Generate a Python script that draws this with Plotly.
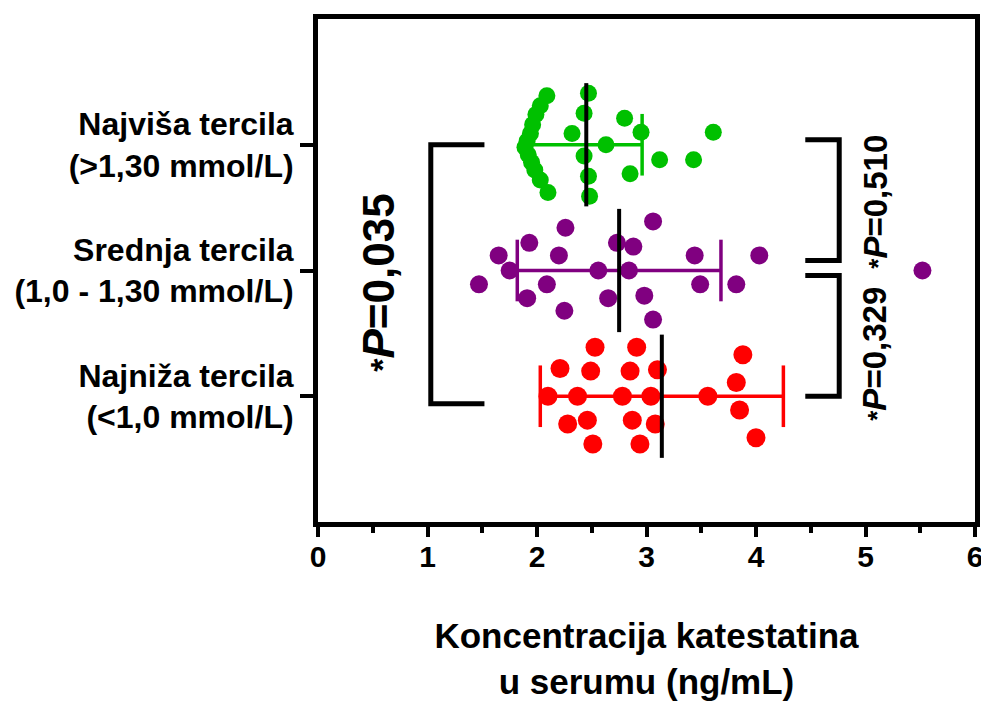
import plotly.graph_objects as go

# Serum catestatin (ng/mL) per tercile
categories = ["Najniža tercila<br>(<1,0 mmol/L)",
              "Srednja tercila<br>(1,0 - 1,30 mmol/L)",
              "Najviša tercila<br>(>1,30 mmol/L)"]
cat_pos = [1, 2, 3]

top_values = [2.09, 2.03, 1.99, 1.96, 1.94, 1.91, 1.89, 1.92, 1.95, 1.98, 2.03, 2.10,
              2.47, 2.43, 2.32, 2.63, 2.43, 2.47, 2.48,
              2.80, 2.95, 2.85, 3.12, 3.43, 3.61]
top_swarm = [0.39, 0.31, 0.24, 0.16, 0.09, 0.03, -0.02, -0.08, -0.14, -0.20, -0.28, -0.38,
             0.41, 0.25, 0.09, 0.0, -0.09, -0.25, -0.41,
             0.21, 0.10, -0.23, -0.12, -0.12, 0.10]

mid_values = [2.26, 3.06, 1.93, 2.73, 2.88, 1.65, 2.20, 3.44, 4.03, 1.75, 2.56, 2.84,
              1.47, 2.09, 3.49, 3.82, 1.91, 2.65, 2.98, 2.25, 3.06, 5.52]
mid_swarm = [0.34, 0.39, 0.22, 0.22, 0.19, 0.12, 0.12, 0.12, 0.12, 0.0, 0.0, 0.0,
             -0.11, -0.11, -0.11, -0.11, -0.22, -0.22, -0.20, -0.32, -0.39, 0.0]

low_values = [2.53, 2.91, 3.88, 2.21, 2.49, 2.85, 3.10, 3.82, 2.10, 2.37, 2.78, 3.04,
              3.56, 3.85, 2.28, 2.46, 2.87, 3.08, 2.51, 2.94, 4.00]
low_swarm = [0.39, 0.39, 0.33, 0.22, 0.20, 0.20, 0.21, 0.11, 0.0, 0.0, 0.0, 0.0,
             0.0, -0.11, -0.22, -0.19, -0.19, -0.22, -0.38, -0.38, -0.33]

# mean and SD per group (low, mid, top)
means = [3.14, 2.75, 2.45]
sds = [1.11, 0.93, 0.51]

p_labels = ["<span style='font-size:34px'>*</span><i>P</i>=0,035",
            "<span style='font-size:26px'>*</span><i>P</i>=0,510",
            "<span style='font-size:26px'>*</span><i>P</i>=0,329"]

COLORS = ["#FF0000", "#800080", "#00C000"]
FONT = "Liberation Sans, Arial, sans-serif"

fig = go.Figure()

groups = [(low_values, low_swarm), (mid_values, mid_swarm), (top_values, top_swarm)]
for i, (vals, swarm) in enumerate(groups):
    fig.add_trace(go.Scatter(
        x=vals, y=[cat_pos[i] + s for s in swarm],
        mode="markers",
        marker=dict(color=COLORS[i], size=[19, 18, 17][i], line=dict(width=0)),
        showlegend=False, hoverinfo="x"
    ))

# mean line (black) and SD bar with caps
for i in range(3):
    c = cat_pos[i]
    lo, hi = means[i] - sds[i], means[i] + sds[i]
    fig.add_trace(go.Scatter(
        x=[lo, hi, None, lo, lo, None, hi, hi],
        y=[c, c, None, c - 0.245, c + 0.245, None, c - 0.245, c + 0.245],
        mode="lines", line=dict(color=COLORS[i], width=3.5),
        showlegend=False, hoverinfo="skip"
    ))
    fig.add_trace(go.Scatter(
        x=[means[i], means[i]], y=[c - 0.49, c + 0.49],
        mode="lines", line=dict(color="black", width=4),
        showlegend=False, hoverinfo="skip"
    ))

# significance brackets
bracket = dict(type="path", line=dict(color="black", width=5), xref="x", yref="y")
fig.add_shape(path="M 1.52 3.0 L 1.03 3.0 L 1.03 0.94 L 1.52 0.94", **bracket)
fig.add_shape(path="M 4.45 3.04 L 4.76 3.04 L 4.76 2.08 L 4.45 2.08", **bracket)
fig.add_shape(path="M 4.45 1.96 L 4.76 1.96 L 4.76 1.0 L 4.45 1.0", **bracket)

fig.add_annotation(x=0.545, y=1.9, text=p_labels[0], textangle=-90, showarrow=False,
                   font=dict(family=FONT, size=44, color="black", weight="bold"))
fig.add_annotation(x=5.09, y=2.55, text=p_labels[1], textangle=-90, showarrow=False,
                   font=dict(family=FONT, size=33, color="black", weight="bold"))
fig.add_annotation(x=5.08, y=1.34, text=p_labels[2], textangle=-90, showarrow=False,
                   font=dict(family=FONT, size=33, color="black", weight="bold"))

fig.update_xaxes(
    range=[0, 6], tickvals=[0, 1, 2, 3, 4, 5, 6],
    showline=True, linewidth=5, linecolor="black", mirror=True,
    ticks="outside", ticklen=10, tickwidth=4, tickcolor="black",
    minor=dict(tickvals=[0.5, 1.5, 2.5, 3.5, 4.5, 5.5], ticks="outside",
               ticklen=6, tickwidth=4, tickcolor="black"),
    showgrid=False, zeroline=False, ticklabelstandoff=-6,
    tickfont=dict(family=FONT, size=30, color="black", weight="bold"),
    title=dict(text="Koncentracija katestatina<br>u serumu (ng/mL)",
               font=dict(family=FONT, size=35, color="black", weight="bold"), standoff=53)
)
fig.update_yaxes(
    range=[0, 4], tickvals=cat_pos, ticktext=categories,
    showline=True, linewidth=5, linecolor="black", mirror=True,
    ticks="outside", ticklen=13, tickwidth=4, tickcolor="black",
    showgrid=False, zeroline=False,
    tickfont=dict(family=FONT, size=32, color="black", weight="bold")
)

# page body adds an 8px offset, so the figure is sized to fit the window
fig.update_layout(
    width=981, height=694,
    margin=dict(l=310, r=11, t=6, b=180),
    plot_bgcolor="white", paper_bgcolor="white",
    font=dict(family=FONT, color="black")
)

fig.write_html("out.html")
